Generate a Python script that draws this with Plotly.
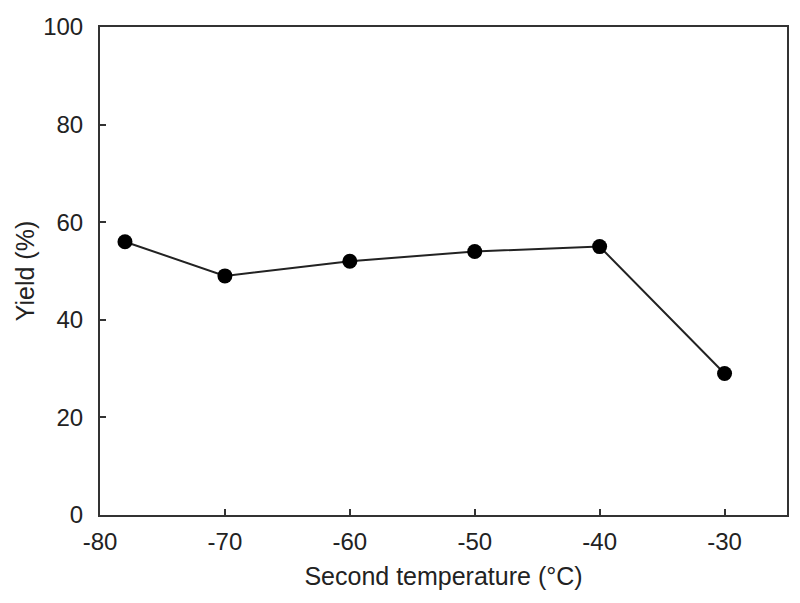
import plotly.graph_objects as go

temps = [-78, -70, -60, -50, -40, -30]
yields = [56, 49, 52, 54, 55, 29]
x_ticks = [-80, -70, -60, -50, -40, -30]
x_tick_labels = ["-80", "-70", "-60", "-50", "-40", "-30"]
y_ticks = [0, 20, 40, 60, 80, 100]
y_tick_labels = ["0", "20", "40", "60", "80", "100"]

font_family = "Liberation Sans, Arial, sans-serif"

fig = go.Figure()
fig.add_trace(go.Scatter(
    x=temps, y=yields, mode="lines+markers",
    line=dict(color="#222222", width=2),
    marker=dict(color="#000000", size=15),
    showlegend=False,
))

axis_common = dict(
    showline=True, linecolor="#333333", linewidth=2, mirror=True,
    ticks="inside", ticklen=6, tickwidth=1.5, tickcolor="#333333",
    showgrid=False, zeroline=False, automargin=False,
    tickfont=dict(family=font_family, size=24, color="#222222"),
)

fig.update_layout(
    width=792, height=595,
    margin=dict(l=92, r=13, t=19, b=88),
    paper_bgcolor="white", plot_bgcolor="white",
    xaxis=dict(range=[-80, -25], tickvals=x_ticks, ticktext=x_tick_labels,
               title=dict(text="Second temperature (°C)", standoff=14,
                          font=dict(family=font_family, size=25, color="#222222")),
               ticklabelstandoff=4, **axis_common),
    yaxis=dict(range=[0, 100], tickvals=y_ticks, ticktext=y_tick_labels,
               title=dict(text="Yield (%)", standoff=1,
                          font=dict(family=font_family, size=25, color="#222222")),
               ticklabelstandoff=10, **axis_common),
)

fig.write_html("out.html")
